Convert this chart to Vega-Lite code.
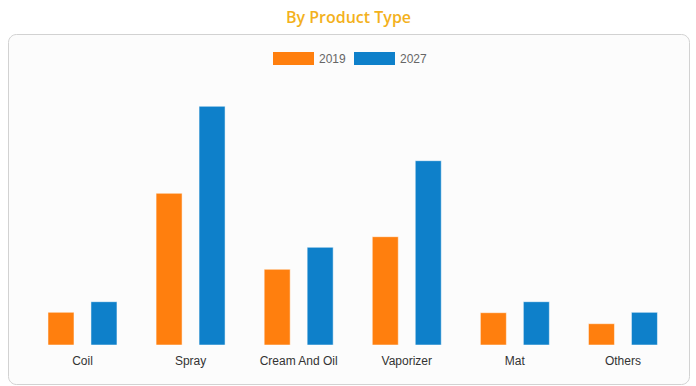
{
  "$schema": "https://vega.github.io/schema/vega-lite/v6.json",
  "width": 681,
  "height": 350,
  "autosize": "none",
  "padding": {"left": 8, "top": 34, "right": 7, "bottom": 2},
  "background": "white",
  "title": {"text": "By Product Type", "color": "#f3b11c", "font": "Open Sans", "fontSize": 16, "fontWeight": 600, "anchor": "middle", "baseline": "alphabetic", "offset": -5},
  "data": {"values": [
    {"type": "Coil", "year": "2019", "value": 32.7},
    {"type": "Coil", "year": "2027", "value": 43.3},
    {"type": "Spray", "year": "2019", "value": 151.7},
    {"type": "Spray", "year": "2027", "value": 238.7},
    {"type": "Cream And Oil", "year": "2019", "value": 75.7},
    {"type": "Cream And Oil", "year": "2027", "value": 97.7},
    {"type": "Vaporizer", "year": "2019", "value": 108.3},
    {"type": "Vaporizer", "year": "2027", "value": 184.3},
    {"type": "Mat", "year": "2019", "value": 32.3},
    {"type": "Mat", "year": "2027", "value": 43.3},
    {"type": "Others", "year": "2019", "value": 21.3},
    {"type": "Others", "year": "2027", "value": 32.7}
  ]},
  "mark": {"type": "bar", "stroke": "white", "strokeOpacity": 0.5, "strokeWidth": 1},
  "encoding": {
    "x": {"field": "type", "type": "nominal", "sort": null,
      "scale": {"paddingInner": 0, "paddingOuter": 0.15, "align": 0.63},
      "axis": {"title": null, "labelAngle": 0, "domain": false, "ticks": false, "grid": false, "offset": -30, "labelPadding": 1, "labelFont": "Liberation Sans", "labelFontSize": 12, "labelColor": "#333333"}},
    "xOffset": {"field": "year", "type": "nominal", "scale": {"paddingInner": 0.395, "paddingOuter": 0.455}},
    "y": {"field": "value", "type": "quantitative", "scale": {"domain": [-39, 311], "nice": false}, "axis": null},
    "color": {"field": "year", "type": "nominal",
      "scale": {"domain": ["2019", "2027"], "range": ["#ff7f0e", "#0e80ca"]},
      "legend": {"orient": "none", "legendX": 265, "legendY": 4, "direction": "horizontal", "title": null,
        "symbolType": "M-1,-0.317H1V0.317H-1Z", "symbolSize": 1681, "symbolStrokeWidth": 0, "symbolOpacity": 1,
        "labelFont": "Liberation Sans", "labelFontSize": 12, "labelColor": "#666666", "labelOffset": 5, "columnPadding": 8}}
  },
  "config": {"view": {"fill": "#fcfcfc", "stroke": "#d2d2d2", "cornerRadius": 8}}
}
